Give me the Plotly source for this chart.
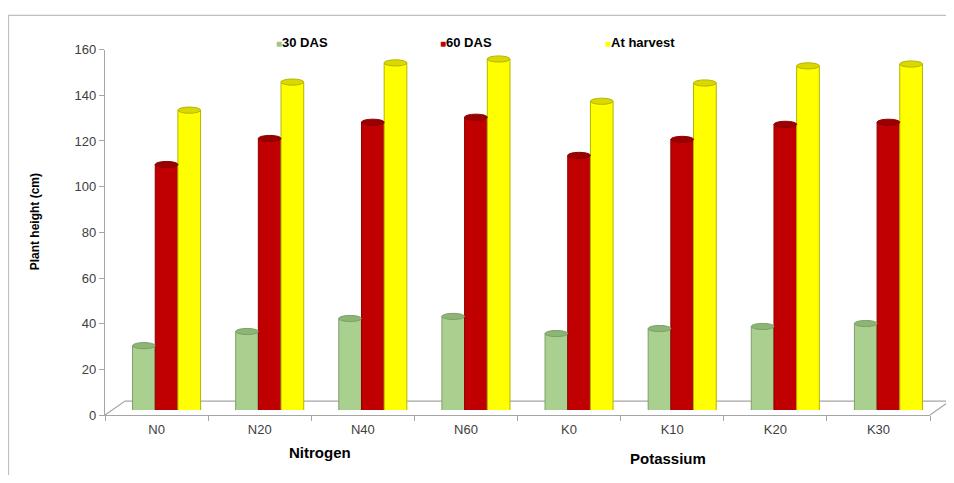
import plotly.graph_objects as go

categories = ["N0", "N20", "N40", "N60", "K0", "K10", "K20", "K30"]
das30 = [28.2, 34.4, 40.1, 41.0, 33.5, 35.7, 36.6, 37.9]
das60 = [107.5, 118.9, 126.0, 128.2, 111.5, 118.5, 125.1, 126.0]
harvest = [131.3, 143.6, 152.0, 153.7, 135.2, 143.2, 150.7, 151.5]
series_names = ["30 DAS", "60 DAS", "At harvest"]
y_ticks = [0, 20, 40, 60, 80, 100, 120, 140, 160]

# figure size and calibration of screen position
OFF = 8
W, H = 938, 467
SY, BY = 0.964, 6.8
def px(p):
    return (p - OFF) / W
def py(p):
    fy = (p - BY) / SY - OFF
    return 1 - fy / H

fills = ["#A9D08E", "#C00000", "#FFFF00"]
edges = ["#7F9F6A", "#8B0000", "#B5B500"]
caps = ["#8DB574", "#9A0000", "#D9D900"]
legend_cols = ["#9BC97E", "#C00000", "#FFFF00"]

fig = go.Figure()
series = [das30, das60, harvest]
for name, vals, f, e in zip(series_names, series, fills, edges):
    fig.add_trace(go.Bar(
        x=categories, y=vals, name=name,
        marker=dict(color=f, line=dict(color=e, width=1)),
        xaxis="x", yaxis="y",
    ))

# invisible trace for the front axes (labels)
fig.add_trace(go.Scatter(
    x=categories, y=[0] * len(categories), xaxis="x2", yaxis="y2",
    mode="markers", marker=dict(opacity=0), showlegend=False, hoverinfo="skip",
))

# cylinder caps and rounded bottoms
bar_w = 0.22
cap_h = 1.35
shapes = []
for si, (vals, c, e, f) in enumerate(zip(series, caps, edges, fills)):
    for ci, v in enumerate(vals):
        cx = ci + (si - 1) * bar_w
        shapes.append(dict(type="circle", xref="x", yref="y",
                           x0=cx - bar_w / 2 + 0.004, x1=cx + bar_w / 2 - 0.004,
                           y0=-cap_h, y1=cap_h,
                           fillcolor=f, line=dict(width=0), layer="above"))
        shapes.append(dict(type="circle", xref="x", yref="y",
                           x0=cx - bar_w / 2, x1=cx + bar_w / 2,
                           y0=v - cap_h, y1=v + cap_h,
                           fillcolor=c, line=dict(color=e, width=1), layer="above"))

# 3D floor
floor_col = "#A6A6A6"
shapes.append(dict(type="path", xref="paper", yref="paper",
                   path=f"M {px(105)},{py(413)} L {px(125)},{py(399)} L {px(950)},{py(399)} L {px(930)},{py(413)}",
                   line=dict(color=floor_col, width=1.2), layer="below"))
# outer frame
shapes.append(dict(type="rect", xref="paper", yref="paper",
                   x0=px(8.5), x1=1.2, y0=-0.2, y1=0.999,
                   line=dict(color="#BFBFBF", width=1.2), fillcolor="rgba(0,0,0,0)", layer="below"))

annotations = [
    dict(text="Nitrogen", xref="paper", yref="paper", x=px(320), y=py(450),
         xanchor="center", yanchor="middle",
         showarrow=False, font=dict(size=15, color="#000000", weight="bold")),
    dict(text="Potassium", xref="paper", yref="paper", x=px(668), y=py(456),
         xanchor="center", yanchor="middle",
         showarrow=False, font=dict(size=15, color="#000000", weight="bold")),
    dict(text="Plant height (cm)", xref="paper", yref="paper", x=px(35), y=py(221),
         xanchor="center", yanchor="middle",
         textangle=-90, showarrow=False, font=dict(size=12, color="#000000", weight="bold")),
]
legend_x = [274, 438, 603]
for name, c, lx in zip(series_names, legend_cols, legend_x):
    annotations.append(dict(
        text=f"<span style='color:{c};font-size:10px'>■</span><b>{name}</b>",
        xref="paper", yref="paper", x=px(lx), y=py(42), xanchor="left", yanchor="middle",
        showarrow=False, font=dict(size=13, color="#000000")))

fig.update_layout(
    width=W, height=H,
    margin=dict(l=0, r=0, t=0, b=0),
    paper_bgcolor="white", plot_bgcolor="rgba(0,0,0,0)",
    showlegend=False,
    barmode="group", bargap=0.34, bargroupgap=0,
    font=dict(family="Liberation Sans, Arial, sans-serif", color="#404040", size=13),
    xaxis=dict(domain=[px(115), px(940)], anchor="y", visible=False,
               range=[-0.5, 7.5], type="category"),
    yaxis=dict(domain=[py(408), py(44)], anchor="x", visible=False, range=[0, 160]),
    xaxis2=dict(domain=[px(105), px(930)], anchor="y2", type="category",
                range=[-0.5, 7.5], showline=True, linecolor=floor_col, linewidth=1.2,
                ticks="outside", ticklen=5, tickcolor=floor_col, tickson="boundaries",
                showgrid=False, zeroline=False, ticklabelstandoff=2,
                tickfont=dict(size=13, color="#404040")),
    yaxis2=dict(domain=[py(413), py(49)], anchor="x2", range=[0, 160],
                tickvals=y_ticks, showline=True, linecolor=floor_col, linewidth=1.2,
                ticks="outside", ticklen=5, tickcolor=floor_col, showgrid=False,
                zeroline=False, tickfont=dict(size=13, color="#404040")),
    shapes=shapes,
    annotations=annotations,
)

fig.write_html("out.html")
